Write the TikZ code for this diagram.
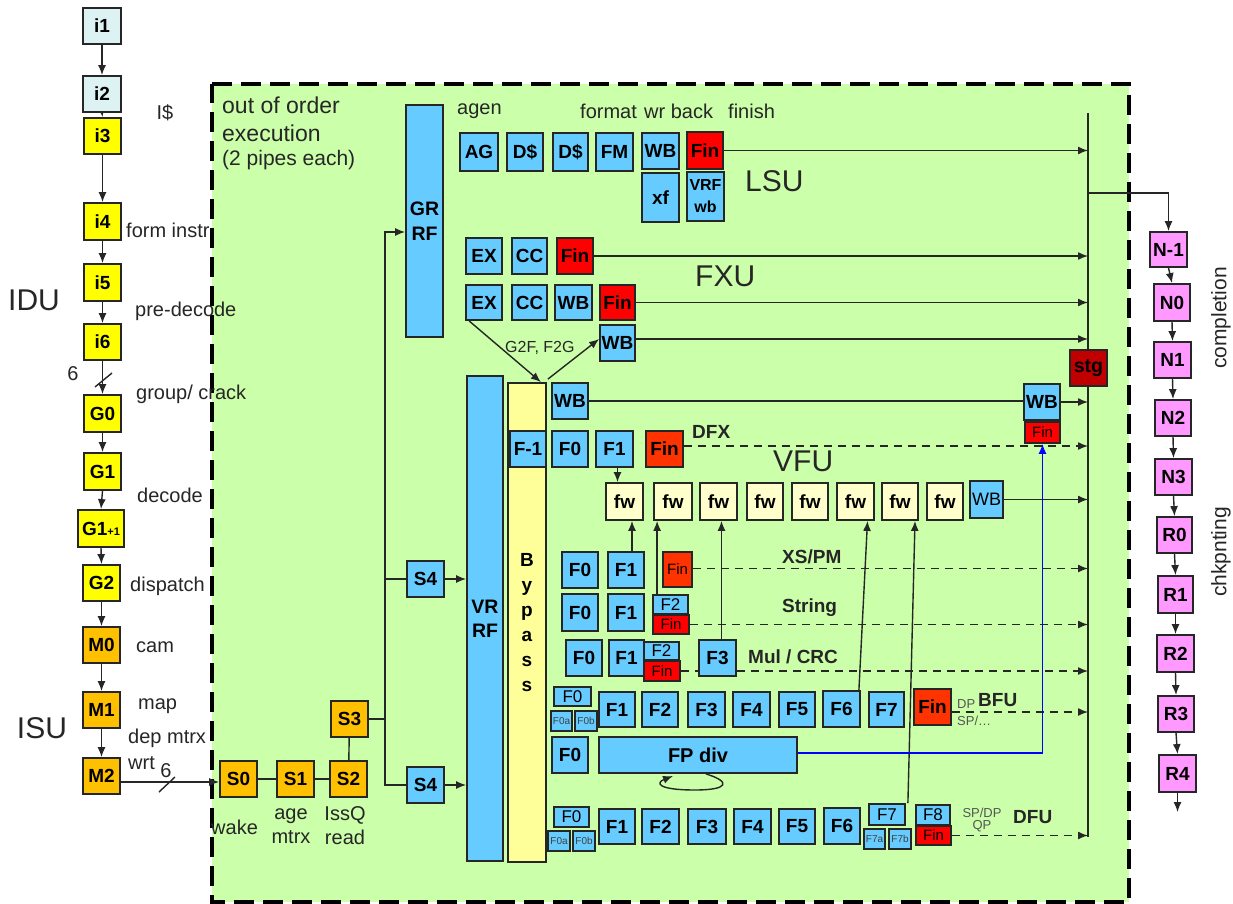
\documentclass[tikz,border=0pt]{standalone}
\usepackage{fontspec}
\setmainfont{Liberation Sans}
\usetikzlibrary{arrows.meta,calc}
\pgfdeclarelayer{back}
\pgfdeclarelayer{mid}
\pgfsetlayers{back,mid,main}
\definecolor{bggreen}{RGB}{204,255,170}
\definecolor{icyan}{RGB}{221,243,243}
\definecolor{iyel}{RGB}{255,255,0}
\definecolor{iorg}{RGB}{255,192,0}
\definecolor{bbl}{RGB}{102,204,255}
\definecolor{bred}{RGB}{255,0,0}
\definecolor{bored}{RGB}{255,51,0}
\definecolor{bdred}{RGB}{192,0,0}
\definecolor{bpink}{RGB}{255,153,255}
\definecolor{bfw}{RGB}{255,255,204}
\definecolor{bbyp}{RGB}{255,255,153}
\definecolor{lgray}{RGB}{85,85,85}
\definecolor{bline}{RGB}{0,0,255}
\newcommand\fs[1]{\fontsize{#1}{#1}\selectfont}
\newcommand\mybox[7]{\node[#6, minimum width={(#4)-(#2)}, minimum height={(#5)-(#3)}] (#1) at ({((#2)+(#4))/2},{((#3)+(#5))/2}) {#7};}
\tikzset{
 bx/.style={draw=black!85, line width=1.8pt, inner sep=0pt, align=center, font=\bfseries\fs{19}},
 cyb/.style={bx, fill=icyan},
 yeb/.style={bx, fill=iyel},
 orb/.style={bx, fill=iorg},
 blb/.style={bx, fill=bbl},
 rdb/.style={bx, fill=bred},
 orrb/.style={bx, fill=bored},
 drb/.style={bx, fill=bdred},
 pkb/.style={bx, fill=bpink},
 fwb/.style={bx, fill=bfw},
 byb/.style={bx, fill=bbyp},
 smtxt/.style={font=\fs{17}},
 finsm/.style={font=\fs{15}},
 tinyb/.style={blb, line width=1.4pt, font=\fs{10}, text=black!75},
 lbl/.style={inner sep=0pt, font=\fs{20}, text=black!85},
 bigtxt/.style={inner sep=0pt, font=\fs{30}, text=black!85},
 unittxt/.style={inner sep=0pt, font=\bfseries\fs{19}, text=black!85},
 notetxt/.style={inner sep=0pt, font=\fs{13}, text=lgray, align=center},
 conn/.style={draw=black!85, line width=1.4pt},
 arr/.style={conn, -{Latex[length=10pt,width=8pt]}},
 darr/.style={arr, dash pattern=on 8pt off 6pt},
 barr/.style={draw=bline, line width=1.4pt, -{Latex[length=10pt,width=8pt]}},
}
\begin{document}
\begin{tikzpicture}[x=1pt,y=-1pt]
\useasboundingbox (0,0) rectangle (1233,904);
\begin{pgfonlayer}{back}
\fill[white] (0,0) rectangle (1233,904);
\fill[bggreen] (212,84) rectangle (1129,902);
\draw[line width=4.5pt, dash pattern=on 20pt off 9pt] (212,84) -- (1129,84) -- (1129,902) -- (212,902) -- cycle;
\end{pgfonlayer}

% IDU / ISU column
\mybox{i1}{83}{8}{121}{44}{cyb}{i1}
\mybox{i2}{83}{76}{121}{112}{cyb}{i2}
\mybox{i3}{84}{118}{121}{154}{yeb}{i3}
\mybox{i4}{84}{203}{121}{240}{yeb}{i4}
\mybox{i5}{84}{264}{121}{301}{yeb}{i5}
\mybox{i6}{84}{324}{121}{360}{yeb}{i6}
\mybox{G0}{84}{395}{121}{432}{yeb}{G0}
\mybox{G1}{84}{453}{121}{490}{yeb}{G1}
\mybox{G1p}{78}{510}{124}{547}{yeb}{G1{\fs{11}+1}}
\mybox{G2}{83}{565}{120}{601}{yeb}{G2}
\mybox{M0}{83}{627}{120}{663}{orb}{M0}
\mybox{M1}{83}{692}{120}{728}{orb}{M1}
\mybox{M2}{83}{758}{120}{794}{orb}{M2}

% S chain
\mybox{S0}{220}{761}{257}{797}{orb}{S0}
\mybox{S1}{277}{761}{314}{797}{orb}{S1}
\mybox{S2}{330}{761}{367}{797}{orb}{S2}
\mybox{S3}{331}{701}{368}{737}{orb}{S3}
\mybox{S4a}{407}{561}{444}{597}{blb}{S4}
\mybox{S4b}{407}{767}{444}{803}{blb}{S4}

% register files
\mybox{GRRF}{406}{105}{443}{337}{blb, font=\bfseries\fontsize{19.5}{25}\selectfont}{GR\\RF}
\mybox{VRRF}{467}{376}{503}{861}{blb, font=\bfseries\fontsize{19.5}{24}\selectfont}{VR\\RF}
\mybox{byp}{508}{383}{546}{862}{byb, font=\bfseries\fontsize{19}{25}\selectfont}{B\\y\\p\\a\\s\\s}

% LSU
\mybox{AG}{460}{133}{498}{171}{blb}{AG}
\mybox{D1}{507}{133}{543}{171}{blb}{D\$}
\mybox{D2}{553}{133}{588}{171}{blb}{D\$}
\mybox{FM}{596}{133}{633}{171}{blb}{FM}
\mybox{LWB}{642}{133}{679}{169}{blb}{WB}
\mybox{LFin}{687}{132}{723}{169}{rdb}{Fin}
\mybox{xf}{642}{173}{679}{222}{blb}{xf}
\mybox{VRFwb}{687}{172}{724}{221}{blb, font=\bfseries\fontsize{16}{22}\selectfont}{VRF\\wb}

% FXU
\mybox{EX1}{466}{238}{502}{274}{blb}{EX}
\mybox{CC1}{512}{238}{547}{274}{blb}{CC}
\mybox{XFin1}{557}{238}{593}{274}{rdb}{Fin}
\mybox{EX2}{466}{285}{502}{320}{blb}{EX}
\mybox{CC2}{512}{285}{547}{320}{blb}{CC}
\mybox{XWB2}{555}{285}{592}{320}{blb}{WB}
\mybox{XFin2}{600}{285}{635}{320}{rdb}{Fin}
\mybox{XWB3}{600}{325}{635}{361}{blb}{WB}

% DFX
\mybox{BWB}{552}{383}{588}{419}{blb}{WB}
\mybox{Fm1}{510}{431}{546}{467}{blb}{F-1}
\mybox{DF0}{552}{431}{588}{467}{blb}{F0}
\mybox{DF1}{596}{431}{633}{467}{blb}{F1}
\mybox{DFin}{646}{431}{683}{467}{orrb}{Fin}
\mybox{RWB}{1024}{384}{1060}{420}{blb}{WB}
\mybox{RFin}{1025}{422}{1060}{443}{rdb, finsm}{Fin}

% fw row
\mybox{fw1}{606}{483}{643}{520}{fwb}{fw}
\mybox{fw2}{654}{483}{692}{520}{fwb}{fw}
\mybox{fw3}{700}{483}{737}{520}{fwb}{fw}
\mybox{fw4}{747}{483}{783}{520}{fwb}{fw}
\mybox{fw5}{792}{483}{828}{520}{fwb}{fw}
\mybox{fw6}{837}{483}{874}{520}{fwb}{fw}
\mybox{fw7}{882}{483}{918}{520}{fwb}{fw}
\mybox{fw8}{927}{483}{963}{520}{fwb}{fw}
\mybox{VWB}{970}{481}{1003}{518}{blb, font=\fs{18}}{WB}

% XS/PM
\mybox{XF0}{562}{552}{598}{588}{blb}{F0}
\mybox{XF1}{608}{552}{644}{588}{blb}{F1}
\mybox{XFin}{663}{552}{692}{587}{orrb, finsm}{Fin}
% String
\mybox{SF0}{562}{594}{598}{631}{blb}{F0}
\mybox{SF1}{608}{594}{644}{631}{blb}{F1}
\mybox{SF2}{653}{595}{688}{614}{blb, smtxt}{F2}
\mybox{SFin}{653}{615}{689}{634}{rdb, finsm}{Fin}
% Mul/CRC
\mybox{MF0}{566}{640}{602}{676}{blb}{F0}
\mybox{MF1}{609}{640}{644}{676}{blb}{F1}
\mybox{MF2}{644}{642}{679}{660}{blb, smtxt}{F2}
\mybox{MFin}{644}{661}{680}{681}{rdb, finsm}{Fin}
\mybox{MF3}{699}{640}{736}{676}{blb}{F3}
% BFU
\mybox{BF0}{554}{687}{591}{706}{blb, smtxt}{F0}
\mybox{BF0a}{551}{711}{572}{731}{tinyb}{F0a}
\mybox{BF0b}{575}{711}{597}{731}{tinyb}{F0b}
\mybox{BF1}{599}{692}{635}{727}{blb}{F1}
\mybox{BF2}{642}{692}{678}{727}{blb}{F2}
\mybox{BF3}{688}{692}{725}{727}{blb}{F3}
\mybox{BF4}{733}{692}{770}{727}{blb}{F4}
\mybox{BF5}{779}{692}{815}{727}{blb}{F5}
\mybox{BF6}{823}{691}{860}{727}{blb}{F6}
\mybox{BF7}{869}{692}{904}{727}{blb}{F7}
\mybox{BFin}{914}{689}{951}{725}{orrb}{Fin}
% FP div
\mybox{PF0}{552}{737}{588}{773}{blb}{F0}
\mybox{FPdiv}{599}{737}{797}{773}{blb, font=\bfseries\fs{20}}{FP div}
% DFU
\mybox{UF0}{554}{807}{589}{827}{blb, smtxt}{F0}
\mybox{UF0a}{548}{831}{570}{851}{tinyb}{F0a}
\mybox{UF0b}{573}{831}{595}{851}{tinyb}{F0b}
\mybox{UF1}{599}{809}{635}{844}{blb}{F1}
\mybox{UF2}{642}{809}{679}{844}{blb}{F2}
\mybox{UF3}{688}{809}{726}{844}{blb}{F3}
\mybox{UF4}{734}{809}{771}{844}{blb}{F4}
\mybox{UF5}{779}{809}{815}{844}{blb}{F5}
\mybox{UF6}{824}{808}{860}{844}{blb}{F6}
\mybox{UF7}{869}{804}{905}{825}{blb, smtxt}{F7}
\mybox{UF7a}{864}{829}{885}{849}{tinyb}{F7a}
\mybox{UF7b}{889}{829}{911}{849}{tinyb}{F7b}
\mybox{UF8}{916}{805}{950}{825}{blb, smtxt}{F8}
\mybox{UFin}{916}{826}{951}{845}{rdb, finsm}{Fin}

\mybox{stg}{1070}{350}{1107}{386}{drb, font=\bfseries\fs{19.5}}{stg}

% completion column
\mybox{Nm1}{1150}{232}{1187}{267}{pkb}{N-1}
\mybox{N0}{1154}{284}{1190}{321}{pkb}{N0}
\mybox{N1}{1154}{342}{1191}{378}{pkb}{N1}
\mybox{N2}{1155}{400}{1191}{436}{pkb}{N2}
\mybox{N3}{1155}{459}{1192}{495}{pkb}{N3}
\mybox{R0}{1157}{517}{1192}{553}{pkb}{R0}
\mybox{R1}{1158}{576}{1193}{613}{pkb}{R1}
\mybox{R2}{1157}{635}{1194}{672}{pkb}{R2}
\mybox{R3}{1158}{696}{1194}{732}{pkb}{R3}
\mybox{R4}{1159}{755}{1196}{792}{pkb}{R4}

% labels
\node[lbl] (tI) at (165,113) {I\$};
\node[lbl, anchor=west] (tform) at (126,230) {form instr};
\node[bigtxt] (tIDU) at (34,300) {IDU};
\node[lbl, anchor=west] (tpre) at (135,311) {pre-decode};
\node[lbl] (t6a) at (73,374) {6};
\node[lbl, anchor=west] (tgrp) at (136,394) {group/ crack};
\node[lbl, anchor=west] (tdec) at (137,495) {decode};
\node[lbl, anchor=west] (tdisp) at (130,586) {dispatch};
\node[lbl, anchor=west] (tcam) at (136,647) {cam};
\node[lbl, anchor=west] (tmap) at (138,706) {map};
\node[bigtxt] (tISU) at (42,728) {ISU};
\node[lbl, anchor=west] (tdep) at (128,738) {dep mtrx};
\node[lbl, anchor=west] (twrt) at (128,763) {wrt};
\node[lbl] (t6b) at (166,771) {6};
\node[lbl, anchor=west] (twake) at (211,827) {wake};
\node[lbl, align=center, font=\fontsize{20}{24}\selectfont] (tage) at (291,826) {age\\mtrx};
\node[lbl, align=center, font=\fontsize{20}{24}\selectfont] (tiss) at (345,826) {IssQ\\read};
\node[lbl, anchor=west, font=\fs{23}] (tout1) at (222,105) {out of order};
\node[lbl, anchor=west, font=\fs{23}] (tout2) at (222,133) {execution};
\node[lbl, anchor=west, font=\fs{21}] (tout3) at (222,160) {(2 pipes each)};
\node[lbl, anchor=west] (tagen) at (457,111) {agen};
\node[lbl, anchor=west] (tfmt) at (580,111) {format};
\node[lbl, anchor=west] (twr) at (644,111) {wr back};
\node[lbl, anchor=west] (tfin) at (728,111) {finish};
\node[bigtxt, anchor=west] (tLSU) at (745,181) {LSU};
\node[bigtxt, anchor=west] (tFXU) at (695,276) {FXU};
\node[lbl, anchor=west, font=\fs{16}] (tg2f) at (505,348) {G2F, F2G};
\node[unittxt, anchor=west] (tDFX) at (692,432) {DFX};
\node[bigtxt, anchor=west] (tVFU) at (773,461) {VFU};
\node[unittxt, anchor=west] (tXS) at (782,557) {XS/PM};
\node[unittxt, anchor=west] (tStr) at (782,608) {String};
\node[unittxt, anchor=west] (tMul) at (748,657) {Mul / CRC};
\node[unittxt, anchor=west] (tBFU) at (978,700) {BFU};
\node[notetxt, anchor=west] (tDP) at (957,704) {DP};
\node[notetxt, anchor=west] (tSP) at (957,721) {SP/…};
\node[unittxt, anchor=west] (tDFU) at (1013,817) {DFU};
\node[notetxt, font=\fontsize{13}{12}\selectfont] (tSPDP) at (982,820) {SP/DP\\QP};
\node[lbl, rotate=90, font=\fs{21}] (tcomp) at (1221,318) {completion};
\node[lbl, rotate=90, font=\fs{21}] (tchk) at (1221,552) {chkpnting};

% connectors
\coordinate (vt) at (1088,113);
\coordinate (vb) at (1088,837);
\coordinate (vbr) at (1088,193);
\coordinate (bt) at (385,232);
\coordinate (rend) at (1177,812);
\begin{pgfonlayer}{mid}
\foreach \a/\b in {i1/i2,i2/i3,i3/i4,i4/i5,i5/i6,i6/G0,G0/G1,G1/G1p,G1p/G2,G2/M0,M0/M1,M1/M2}
  \draw[arr] (\a.south) -- (\b.north);
\draw[conn] (95,387) -- (112,373);
\draw[arr] ([yshift=-6pt]M2.east) -- ([yshift=-6pt]M2.east -| S0.west);
\draw[conn] (159,792) -- (175,777);
\draw[conn] (S0) -- (S1);
\draw[conn] (S1) -- (S2);
\draw[conn] (S2) -- (S3);
\draw[conn] (S3.east) -- (S3.east -| bt);
\draw[arr] (S4b.west) -| (bt) -- (bt -| GRRF.west);
\draw[conn] (S4a.west) -- (S4a.west -| bt);
\draw[arr] (S4a.east) -- (S4a.east -| VRRF.west);
\draw[arr] (S4b.east) -- (S4b.east -| VRRF.west);
\draw[conn, line width=1.2pt] (vt) -- (vb);
\draw[arr] (vbr) -| (Nm1.north);
\draw[arr] (LFin.east) -- (LFin.east -| vt);
\draw[arr] (XFin1.east) -- (XFin1.east -| vt);
\draw[arr] (XFin2.east) -- (XFin2.east -| vt);
\draw[arr] ([yshift=4pt]XWB3.east) -- ([yshift=4pt]XWB3.east -| vt);
\draw[arr] ([xshift=4pt]EX2.south west) -- ([xshift=-6pt]byp.north east);
\draw[arr] ([xshift=1pt,yshift=3pt]byp.north east) -- ([yshift=4pt]XWB3.west);
\draw[conn] (BWB.east) -- (BWB.east -| RWB.west);
\draw[arr] (RWB.east) -- (RWB.east -| vt);
\draw[darr] ([yshift=3pt]DFin.east) -- ([yshift=3pt]DFin.east -| vt);
\draw[arr] ([xshift=3pt]DF1.south) -- ([xshift=3pt]DF1.south |- fw1.north);
\draw[arr] (VWB.east) -- (VWB.east -| vt);
\draw[arr] ([xshift=6pt]XF1.north) -- ([xshift=6pt]XF1.north |- fw1.south);
\draw[darr] ([yshift=1pt]XFin.east) -- ([yshift=1pt]XFin.east -| vt);
\draw[arr] ([xshift=5pt]SF2.north west) -- ([xshift=5pt]SF2.north west |- fw2.south);
\draw[darr] (SFin.east) -- (SFin.east -| vt);
\draw[arr] ([xshift=4pt]MF3.north) -- ([xshift=4pt]MF3.north |- fw3.south);
\draw[darr] (MFin.east) -- (MFin.east -| vt);
\draw[arr] ([xshift=-2pt]BF6.north east) -- ([xshift=12pt]fw6.south);
\draw[darr] ([yshift=-5pt]BFin.east) -- ([yshift=-5pt]BFin.east -| vt);
\draw[arr] ([xshift=2pt]UF7.north east) -- ([xshift=15pt]fw7.south);
\draw[darr] (UFin.east) -- (UFin.east -| vt);
\draw[barr] ([yshift=2pt]FPdiv.east) -| (RFin.south);
\draw[arr] ([xshift=8pt]FPdiv.south) .. controls (732,782) and (728,790) .. (695,790) .. controls (658,790) and (655,783) .. (673,776);
\foreach \a/\b in {Nm1/N0,N0/N1,N1/N2,N2/N3,N3/R0,R0/R1,R1/R2,R2/R3,R3/R4}
  \draw[arr] (\a.south) -- (\b.north);
\draw[arr] (R4.south) -- (R4.south |- rend);
\end{pgfonlayer}
\end{tikzpicture}
\end{document}
